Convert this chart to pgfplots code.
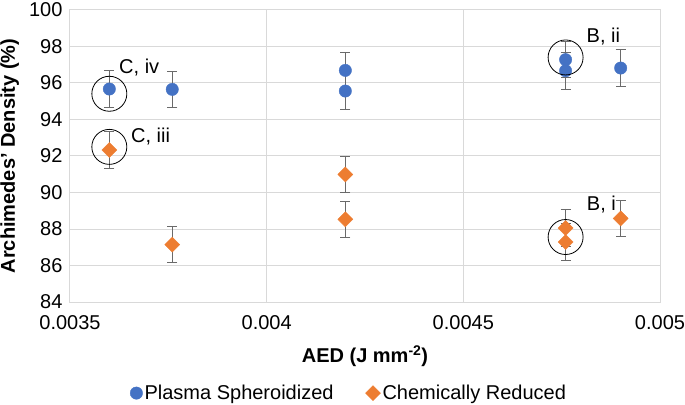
\documentclass[border=0pt]{standalone}
\usepackage{fontspec}
\setmainfont{Liberation Sans}
\usepackage{pgfplots}
\usepackage{pgfplotstable}
\pgfplotsset{compat=1.18}
\definecolor{psblue}{HTML}{4472C4}
\definecolor{crorange}{HTML}{ED7D31}
\definecolor{gridgray}{HTML}{D9D9D9}
\definecolor{errgray}{HTML}{6A6A6A}

\pgfplotstableread{
aed     rho    err
0.00360 95.67  1.0
0.00376 95.65  1.0
0.00420 96.69  1.0
0.00420 95.56  1.0
0.00476 97.28  1.0
0.00476 96.67  1.0
0.00490 96.82  1.0
}\plasma
\pgfplotstableread{
aed     rho    err
0.00360 92.33  1.0
0.00376 87.14  1.0
0.00420 90.99  1.0
0.00420 88.53  1.0
0.00476 88.05  1.0
0.00476 87.29  1.0
0.00490 88.58  1.0
}\chemred
\pgfplotstableread{
aed     rho
0.00360 95.41
0.00360 92.50
0.00476 97.40
0.00476 87.56
}\rings

\begin{document}
\begin{tikzpicture}[font=\fontsize{20bp}{24bp}\selectfont]
\useasboundingbox (-70bp,-103bp) rectangle (615bp,302bp);
\begin{axis}[
    at={(0,0)}, anchor=south west,
    scale only axis, width=590bp, height=292bp,
    xmin=0.0035, xmax=0.005, ymin=84, ymax=100,
    xtick={0.0035,0.004,0.0045,0.005},
    xticklabels={0.0035,0.004,0.0045,0.005},
    ytick={84,86,...,100},
    scaled x ticks=false,
    /pgf/number format/assume math mode=true,
    grid=major,
    major grid style={gridgray, line width=1bp},
    axis line style={gridgray, line width=1bp},
    major tick length=0pt,
    xticklabel style={yshift=-10bp},
    yticklabel style={xshift=-4bp},
    xlabel={\textbf{AED (J mm\textsuperscript{-2})}},
    ylabel={\textbf{Archimedes' Density (\%)}},
    xlabel style={at={(axis description cs:0.5,-0.185)}, anchor=center},
    ylabel style={at={(axis description cs:-0.102,0.5)}, anchor=center},
    legend style={draw=none, fill=none, legend columns=2,
        at={(axis description cs:0.473,-0.312)}, anchor=center,
        /tikz/every even column/.append style={column sep=30bp}},
    legend cell align=left,
    errbars/.style={forget plot, draw=none, mark=none,
        error bars/.cd, y dir=both, y explicit,
        error bar style={errgray, line width=1bp},
        error mark options={errgray, rotate=90, mark size=5bp, line width=1bp}},
]
% error bars first, so the markers sit on top
\addplot[errbars] table[x=aed, y=rho, y error=err] {\plasma};
\addplot[errbars] table[x=aed, y=rho, y error=err] {\chemred};

\addplot[only marks, mark=*, mark size=6.2bp, mark options={draw=psblue, fill=psblue}]
    table[x=aed, y=rho] {\plasma};
\addlegendentry{Plasma Spheroidized}
\addplot[only marks, mark=square*, mark size=5.3bp, mark options={draw=crorange, fill=crorange, rotate=45}]
    table[x=aed, y=rho] {\chemred};
\addlegendentry{Chemically Reduced}

% annotation rings
\addplot[forget plot, only marks, mark=o, mark size=17.5bp, mark options={black, line width=0.8bp}]
    table[x=aed, y=rho] {\rings};
\node at (axis cs:0.003676,96.84) {C, iv};
\node at (axis cs:0.003705,93.06) {C, iii};
\node at (axis cs:0.004856,98.55) {B, ii};
\node at (axis cs:0.004851,89.33) {B, i};
\end{axis}
\end{tikzpicture}
\end{document}
